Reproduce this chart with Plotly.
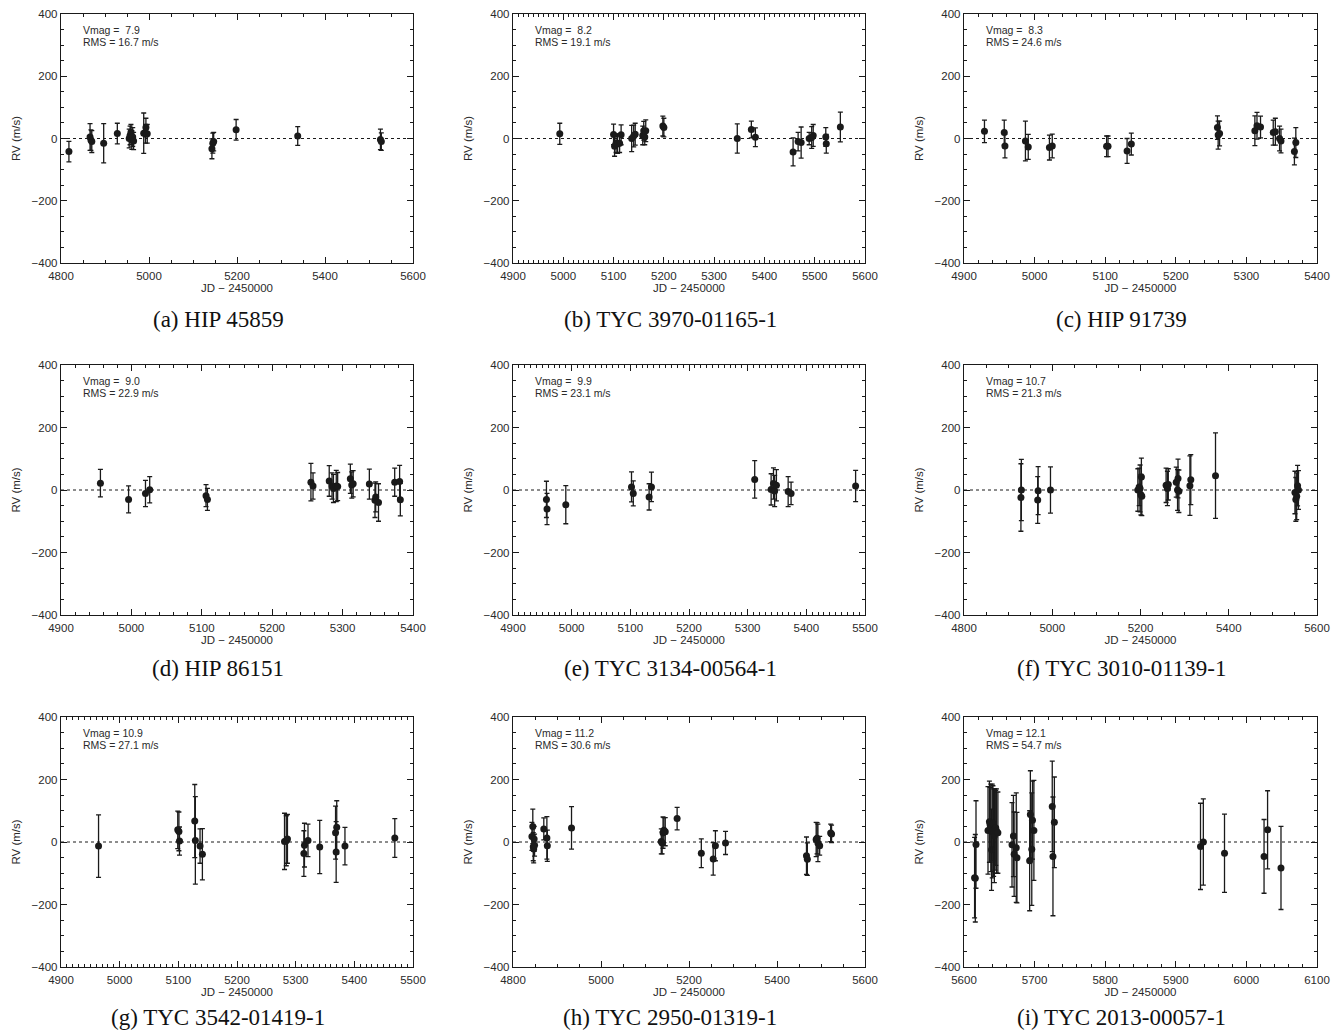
import plotly.graph_objects as go

# ---------------- data ----------------
jd_a = [4818, 4866, 4868, 4870, 4897, 4928, 4955, 4957, 4959, 4961, 4963, 4965, 4988, 4992, 4993, 4996, 5143, 5145, 5147, 5198, 5338, 5526, 5528]
rv_a = [-42, 5, -5, -10, -15, 16, 0, 10, 20, -5, 5, -8, 17, 15, 35, 15, -33, -15, -10, 28, 8, -3, -10]
er_a = [33, 43, 33, 35, 63, 33, 30, 30, 25, 30, 30, 28, 65, 30, 30, 30, 32, 32, 30, 33, 30, 33, 28]

jd_b = [4993, 5100, 5102, 5105, 5108, 5112, 5115, 5136, 5140, 5143, 5158, 5160, 5162, 5164, 5198, 5200, 5346, 5374, 5382, 5457, 5467, 5473, 5489, 5494, 5497, 5522, 5523, 5551]
rv_b = [15, 13, -25, -15, -18, -15, 12, 0, 8, 14, 10, 25, 5, 25, 40, 35, 0, 29, 4, -43, -10, -13, 0, 3, 10, 5, -17, 37]
er_b = [34, 33, 32, 30, 30, 30, 32, 42, 35, 35, 30, 30, 25, 35, 32, 30, 47, 27, 30, 45, 30, 50, 20, 35, 35, 30, 30, 48]

jd_c = [4929, 4957, 4958, 4987, 4991, 5021, 5025, 5102, 5104, 5131, 5137, 5259, 5260, 5262, 5312, 5315, 5320, 5338, 5341, 5347, 5349, 5368, 5370]
rv_c = [23, 19, -24, -8, -27, -29, -24, -25, -25, -40, -18, 35, 11, 16, 25, 41, 37, 19, 22, 0, -8, -42, -13]
er_c = [36, 40, 38, 64, 40, 40, 38, 33, 33, 40, 35, 38, 45, 40, 48, 43, 35, 40, 43, 40, 38, 43, 48]

jd_d = [4956, 4996, 5020, 5026, 5106, 5108, 5255, 5258, 5281, 5285, 5287, 5291, 5293, 5311, 5313, 5315, 5338, 5346, 5347, 5351, 5374, 5381, 5382]
rv_d = [22, -30, -11, 1, -18, -30, 25, 13, 29, 13, 5, 13, 11, 36, 16, 20, 19, -33, -22, -40, 25, 27, -31]
er_d = [44, 43, 42, 42, 35, 35, 60, 42, 49, 42, 45, 50, 45, 47, 42, 42, 48, 55, 48, 60, 45, 52, 52]

jd_e = [4957, 4958, 4990, 5102, 5105, 5132, 5136, 5312, 5340, 5344, 5346, 5349, 5369, 5374, 5484]
rv_e = [-30, -61, -47, 10, -11, -22, 10, 34, 2, 21, -3, 15, -5, -11, 13]
er_e = [58, 50, 61, 48, 40, 42, 47, 60, 50, 50, 50, 50, 48, 36, 50]

jd_f = [4929, 4930, 4967, 4968, 4996, 5194, 5197, 5199, 5201, 5202, 5203, 5258, 5261, 5263, 5281, 5284, 5285, 5287, 5312, 5314, 5370, 5550, 5552, 5554, 5556, 5558]
rv_f = [-24, 0, -32, -2, 0, 0, 10, 5, -15, 42, -20, 15, 5, 18, 25, 0, 37, -4, 14, 33, 46, -8, -30, -20, 14, 0]
er_f = [108, 98, 75, 77, 74, 68, 60, 75, 65, 60, 62, 55, 55, 50, 48, 65, 62, 68, 95, 80, 137, 68, 70, 75, 65, 62]

jd_g = [4964, 5099, 5101, 5102, 5128, 5129, 5137, 5141, 5281, 5284, 5286, 5314, 5315, 5321, 5341, 5368, 5369, 5370, 5384, 5469]
rv_g = [-13, 39, 34, 3, 67, 5, -13, -39, 2, 4, 10, -37, -10, 5, -16, 30, -32, 47, -13, 13]
er_g = [100, 60, 62, 45, 117, 140, 55, 82, 90, 80, 78, 73, 70, 52, 85, 85, 97, 85, 60, 62]

jd_h = [4843, 4845, 4846, 4847, 4848, 4849, 4870, 4877, 4878, 4933, 5137, 5139, 5141, 5143, 5146, 5173, 5228, 5255, 5260, 5283, 5467, 5469, 5489, 5491, 5493, 5497, 5522, 5524]
rv_h = [18, 50, -15, -22, 10, -10, 42, 13, -12, 45, 2, -3, 30, 38, 33, 75, -36, -54, -12, -3, -44, -55, 8, 12, -3, -12, 29, 26]
er_h = [45, 55, 45, 45, 40, 35, 35, 68, 50, 68, 40, 35, 50, 40, 45, 36, 46, 52, 48, 37, 60, 52, 55, 50, 60, 30, 28, 28]

jd_i = [5615, 5616, 5617, 5634, 5636, 5637, 5638, 5639, 5640, 5641, 5642, 5643, 5644, 5645, 5646, 5648,
        5668, 5670, 5671, 5674, 5675, 5693, 5694, 5696, 5697, 5699, 5725, 5726, 5728,
        5935, 5939, 5969, 6025, 6030, 6049]
rv_i = [-114, -116, -8, 37, 65, 55, 45, -25, 35, 60, 30, 20, 40, 45, 35, 30,
        -9, 19, -39, -18, -50, -60, 88, -23, 70, 37, 114, -46, 63,
        -14, 0, -36, -46, 39, -83]
er_i = [129, 140, 140, 140, 130, 120, 140, 130, 150, 120, 140, 150, 130, 120, 135, 130,
        135, 130, 135, 175, 145, 160, 140, 180, 125, 160, 145, 190, 145,
        138, 138, 125, 118, 125, 133]

x_ranges = [[4800, 5600], [4900, 5600], [4900, 5400],
            [4900, 5400], [4900, 5500], [4800, 5600],
            [4900, 5500], [4800, 5600], [5600, 6100]]
x_major = [200, 100, 100, 100, 100, 200, 100, 200, 100]
x_minor = [50, 10, 20, 20, 10, 50, 10, 50, 20]
y_range = [-400, 400]
y_major = 200
y_minor = 50

vmag_labels = ["Vmag = \u00a07.9", "Vmag = \u00a08.2", "Vmag = \u00a08.3",
               "Vmag = \u00a09.0", "Vmag = \u00a09.9", "Vmag = 10.7",
               "Vmag = 10.9", "Vmag = 11.2", "Vmag = 12.1"]
rms_labels = ["RMS = 16.7 m/s", "RMS = 19.1 m/s", "RMS = 24.6 m/s",
              "RMS = 22.9 m/s", "RMS = 23.1 m/s", "RMS = 21.3 m/s",
              "RMS = 27.1 m/s", "RMS = 30.6 m/s", "RMS = 54.7 m/s"]
captions = ["(a) HIP 45859", "(b) TYC 3970-01165-1", "(c) HIP 91739",
            "(d) HIP 86151", "(e) TYC 3134-00564-1", "(f) TYC 3010-01139-1",
            "(g) TYC 3542-01419-1", "(h) TYC 2950-01319-1", "(i) TYC 2013-00057-1"]

jds = [jd_a, jd_b, jd_c, jd_d, jd_e, jd_f, jd_g, jd_h, jd_i]
rvs = [rv_a, rv_b, rv_c, rv_d, rv_e, rv_f, rv_g, rv_h, rv_i]
ers = [er_a, er_b, er_c, er_d, er_e, er_f, er_g, er_h, er_i]

# ---------------- layout geometry (pixels) ----------------
W, H = 1341, 1032
col_px = [(61, 413), (513, 865), (964, 1317)]
row_px = [(14, 263), (365, 615), (717, 967)]
caption_y = [319, 668, 1017]

INK = "#1a1a1a"
TXT = "#2a2a2a"
SANS = "Liberation Sans, Arial"

fig = go.Figure()
layout = dict(width=W, height=H, margin=dict(l=0, r=0, t=0, b=0, autoexpand=False),
              paper_bgcolor="white", plot_bgcolor="white", showlegend=False)
annotations = []
shapes = []

for k in range(9):
    r, c = divmod(k, 3)
    n = "" if k == 0 else str(k + 1)
    xa, ya = "x" + n, "y" + n
    x0, x1 = col_px[c]
    yt, yb = row_px[r]
    fig.add_trace(go.Scatter(
        x=jds[k], y=rvs[k], mode="markers", xaxis=xa, yaxis=ya,
        marker=dict(size=7, color=INK),
        error_y=dict(type="data", array=ers[k], color=INK, thickness=1.3, width=2.5),
        hoverinfo="x+y"))
    common = dict(showline=True, linecolor=INK, linewidth=1.4, mirror="allticks",
                  ticks="inside", tickcolor=INK, tickwidth=1, showgrid=False,
                  zeroline=False, automargin=False,
                  tickfont=dict(family=SANS, size=11.5, color=TXT))
    layout["xaxis" + n] = dict(
        domain=[x0 / W, x1 / W], anchor=ya, range=x_ranges[k],
        tick0=0, dtick=x_major[k], ticklen=6, ticklabelstandoff=2,
        minor=dict(dtick=x_minor[k], tick0=0, ticks="inside", ticklen=3, tickcolor=INK, tickwidth=1),
        title=dict(text="JD \u2212 2450000", standoff=2,
                   font=dict(family=SANS, size=11.5, color=TXT)),
        **common)
    layout["yaxis" + n] = dict(
        domain=[1 - yb / H, 1 - yt / H], anchor=xa, range=y_range,
        tick0=0, dtick=y_major, ticklen=6,
        minor=dict(dtick=y_minor, tick0=0, ticks="inside", ticklen=3, tickcolor=INK, tickwidth=1),
        title=dict(text="RV (m/s)", standoff=8,
                   font=dict(family=SANS, size=11.5, color=TXT)),
        **common)
    shapes.append(dict(type="line", xref=xa + " domain", yref=ya, x0=0, x1=1, y0=0, y1=0,
                       line=dict(color=INK, width=1, dash="dot"), layer="below"))
    annotations.append(dict(text=vmag_labels[k], xref="paper", yref="paper",
                            x=(x0 + 20) / W, y=1 - (yt + 16) / H, xanchor="left", yanchor="middle",
                            showarrow=False, font=dict(family=SANS, size=10.5, color=TXT)))
    annotations.append(dict(text=rms_labels[k], xref="paper", yref="paper",
                            x=(x0 + 20) / W, y=1 - (yt + 28) / H, xanchor="left", yanchor="middle",
                            showarrow=False, font=dict(family=SANS, size=10.5, color=TXT)))
    annotations.append(dict(text=captions[k], xref="paper", yref="paper",
                            x=((x0 + x1) / 2 - 19) / W, y=1 - caption_y[r] / H,
                            xanchor="center", yanchor="middle", showarrow=False,
                            font=dict(family="Liberation Serif, DejaVu Serif, serif", size=23, color="#111")))

layout["annotations"] = annotations
layout["shapes"] = shapes
fig.update_layout(**layout)
fig.write_html("out.html", config={"displayModeBar": False},
               post_script="document.body.style.margin='0px';document.body.style.overflow='hidden';")
